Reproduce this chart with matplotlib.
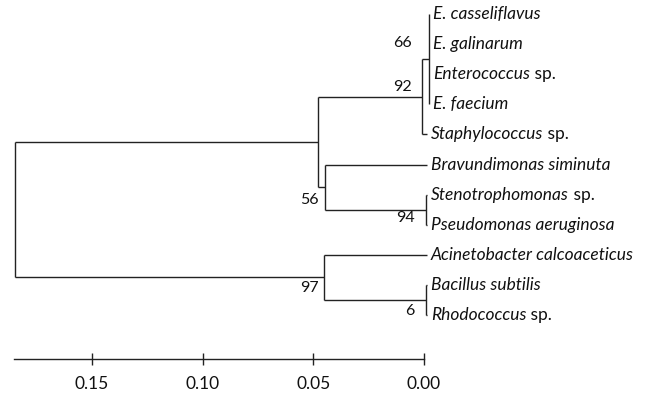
import matplotlib
matplotlib.use("Agg")
import matplotlib.pyplot as plt

plt.rcParams['font.family'] = ['Lato', 'DejaVu Sans']

# tips, top to bottom: italic name + upright suffix
taxa = ["E. casseliflavus", "E. galinarum", "Enterococcus", "E. faecium",
        "Staphylococcus", "Bravundimonas siminuta", "Stenotrophomonas",
        "Pseudomonas aeruginosa", "Acinetobacter calcoaceticus",
        "Bacillus subtilis", "Rhodococcus"]
suffix = ["", "", " sp.", "", " sp.", "", " sp.", "", "", "", " sp."]

# internal nodes: children (tip index or node name), height, bootstrap
nodes = {
    "n66": ([0, 1, 2, 3], -0.0022, "66"),
    "n92": (["n66", 4], 0.0008, "92"),
    "n94": ([6, 7], -0.0008, "94"),
    "n56": ([5, "n94"], 0.0446, "56"),
    "nA": (["n92", "n56"], 0.048, ""),
    "n6": ([9, 10], -0.0008, "6"),
    "n97": ([8, "n6"], 0.045, "97"),
    "root": (["nA", "n97"], 0.1847, ""),
}
tip_h = -0.0012
# where the bootstrap value sits relative to its node (pixels)
bs_offset = {"66": (-17, 16), "92": (-10, 10), "56": (-7, -13),
             "94": (-11, -8), "97": (-6, -11), "6": (-11, -11)}

scale_ticks = [0.15, 0.10, 0.05, 0.00]
scale_len = 0.185

fig = plt.figure(figsize=(6.49, 3.97), dpi=100)
ax = fig.add_axes([0, 0, 1, 1])
ax.set_xlim(0.1915, -0.1016)
ax.set_ylim(12.72, -0.465)

lc = "#222222"
lw = 1.0
tip_x = {}


def draw(n, parent_h=None):
    if isinstance(n, int):
        x = min(tip_h, parent_h)
        tip_x[n] = x
        return x, n
    kids, h, bs = nodes[n]
    ys = []
    for k in kids:
        kx, ky = draw(k, h)
        if kx != h:
            ax.plot([h, kx], [ky, ky], color=lc, lw=lw, solid_capstyle="butt")
        ys.append(ky)
    ax.plot([h, h], [min(ys), max(ys)], color=lc, lw=lw, solid_capstyle="butt")
    y = (ys[0] + ys[-1]) / 2
    if bs:
        dx, dy = bs_offset[bs]
        ax.annotate(bs, xy=(h, y), xytext=(dx, dy), textcoords="offset pixels",
                    ha="right", va="center", fontsize=11.5, color="#111111")
    return h, y


draw("root")

for i, name in enumerate(taxa):
    t = ax.annotate(name, xy=(tip_x[i], i), xytext=(4, 0), textcoords="offset pixels",
                    ha="left", va="center", fontsize=12.5, style="italic",
                    color="#111111")
    if suffix[i]:
        ax.annotate(suffix[i], xy=(1, 0.5), xycoords=t, ha="left", va="center",
                    fontsize=12.5, color="#111111")

# scale bar as the bottom axis
for s in ["top", "left", "right"]:
    ax.spines[s].set_visible(False)
ax.spines["bottom"].set_position(("data", 11.46))
ax.spines["bottom"].set_bounds(0, scale_len)
ax.spines["bottom"].set_color(lc)
ax.spines["bottom"].set_linewidth(lw)
ax.set_xticks(scale_ticks)
ax.set_xticklabels([f"{v:.2f}" for v in scale_ticks])
ax.tick_params(axis="x", direction="inout", length=9, width=lw, color=lc,
               pad=8, labelsize=12.5, labelcolor="#111111")
ax.set_yticks([])

fig.savefig("out.png", dpi=100)
